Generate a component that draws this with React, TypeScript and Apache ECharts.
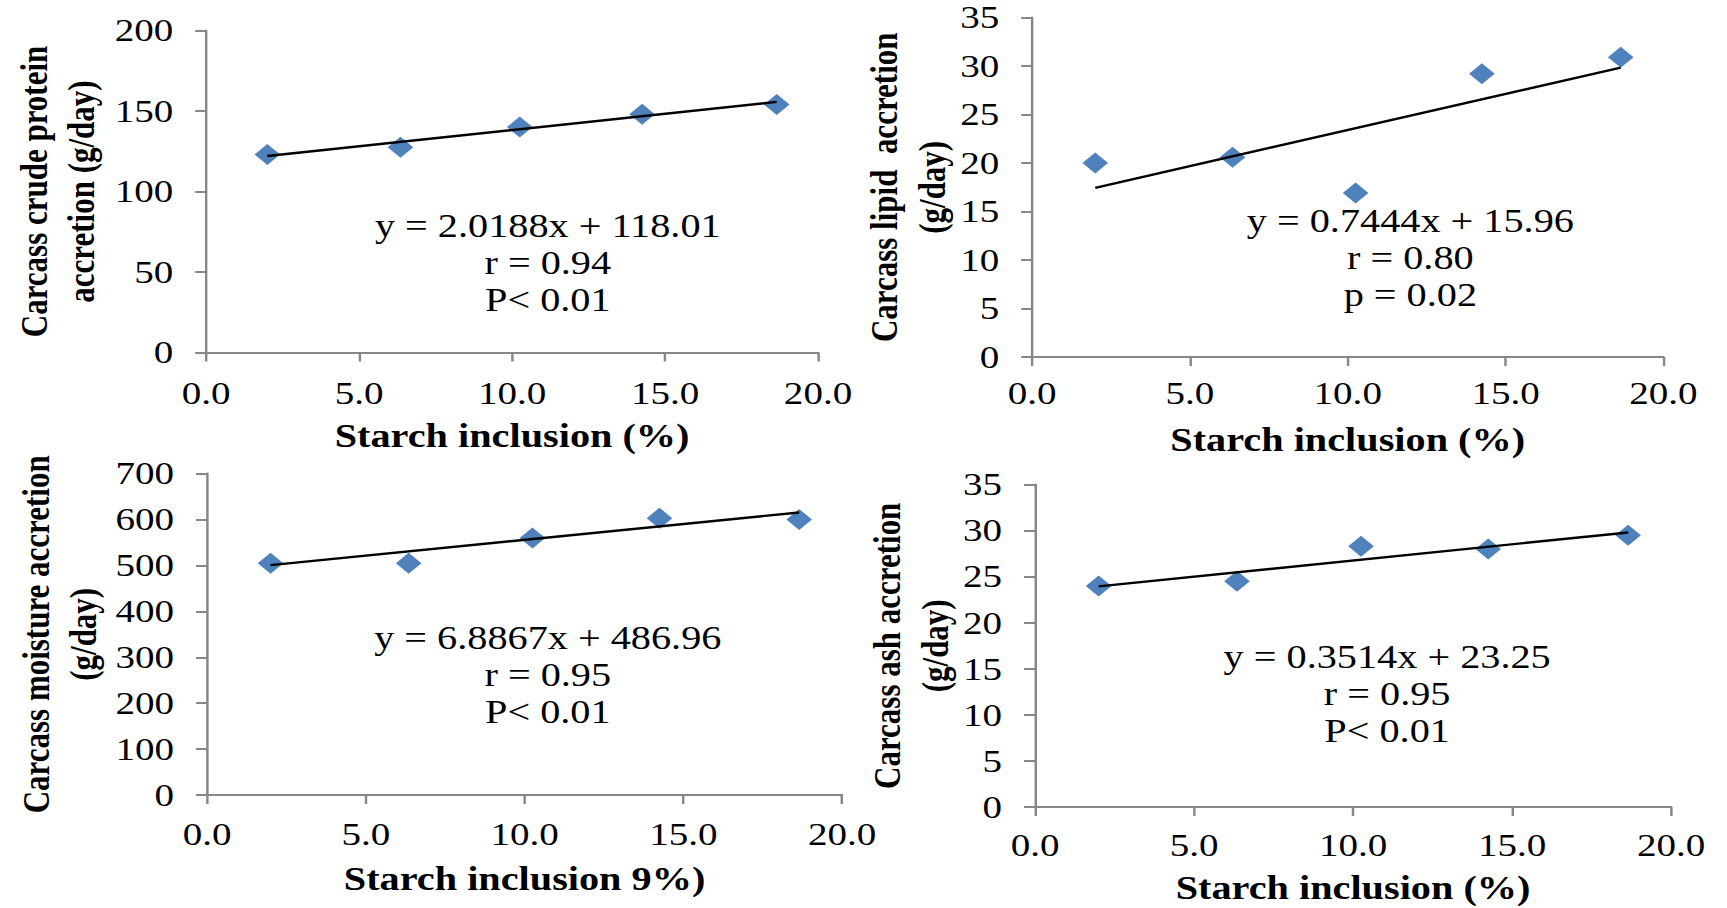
import React, { useEffect, useRef } from "react";
import * as echarts from "echarts";

// The figure is laid out on a narrower canvas and widened horizontally to the page.
const STRETCH = 1.22;
const PAGE_W = 1727;
const PAGE_H = 908;
const CHART_W = Math.round(PAGE_W / STRETCH);

// Starch inclusion levels (%)
const starchLevels = [2.0, 6.35, 10.25, 14.25, 18.65];

// Carcass accretion (g/day)
const proteinAccretion = [123, 127.5, 140, 148, 154];
const lipidAccretion = [20.0, 20.6, 16.9, 29.2, 30.9];
const moistureAccretion = [505, 505, 560, 603, 600];
const ashAccretion = [24.0, 24.5, 28.3, 28.0, 29.5];

// Fitted regressions: slope, intercept
const proteinFit = [2.0188, 118.01];
const lipidFit = [0.7444, 15.96];
const moistureFit = [6.8867, 486.96];
const ashFit = [0.3514, 23.25];

const proteinStats = ["y = 2.0188x + 118.01", "r = 0.94", "P< 0.01"];
const lipidStats = ["y = 0.7444x + 15.96", "r = 0.80", "p = 0.02"];
const moistureStats = ["y = 6.8867x + 486.96", "r = 0.95", "P< 0.01"];
const ashStats = ["y = 0.3514x + 23.25", "r = 0.95", "P< 0.01"];

const yTitles = [
  "Carcass crude protein\naccretion (g/day)",
  "Carcass lipid  accretion\n(g/day)",
  "Carcass moisture accretion\n(g/day)",
  "Carcass ash accretion\n(g/day)",
];
const xTitles = [
  "Starch inclusion (%)",
  "Starch inclusion (%)",
  "Starch inclusion 9%)",
  "Starch inclusion (%)",
];

const yRanges = [
  [0, 200, 50],
  [0, 35, 5],
  [0, 700, 100],
  [0, 35, 5],
];
const xRange = [0, 20, 5];

const panelValues = [proteinAccretion, lipidAccretion, moistureAccretion, ashAccretion];
const panelFits = [proteinFit, lipidFit, moistureFit, ashFit];
const panelStats = [proteinStats, lipidStats, moistureStats, ashStats];

// Layout of each panel on the chart canvas (px)
const layouts = [
  { left: 169, top: 30.5, width: 501.5, height: 322, yNameGap: 83, xLabelMargin: 25, xNameGap: 67, statX: 449, statY: 263 },
  { left: 846, top: 17.6, width: 517.4, height: 339.4, yNameGap: 62, xLabelMargin: 20, xNameGap: 66, statX: 1156, statY: 258 },
  { left: 169.7, top: 473.6, width: 520.5, height: 321.4, yNameGap: 82, xLabelMargin: 23, xNameGap: 67, statX: 449, statY: 675 },
  { left: 848.4, top: 484.6, width: 521.3, height: 322.4, yNameGap: 63, xLabelMargin: 22, xNameGap: 64, statX: 1137, statY: 694 },
];

const FONT = "'Liberation Serif', 'Times New Roman', serif";
const AXIS_GREY = "#878787";
const MARKER_BLUE = "#4F81BD";

function buildOption(): echarts.EChartsOption {
  const axisLineStyle = { color: AXIS_GREY, width: 2 };
  const grid: any[] = [];
  const xAxis: any[] = [];
  const yAxis: any[] = [];
  const series: any[] = [];
  const graphic: any[] = [];

  layouts.forEach((lay, i) => {
    grid.push({ left: lay.left, top: lay.top, width: lay.width, height: lay.height, containLabel: false });

    xAxis.push({
      gridIndex: i,
      type: "value",
      min: xRange[0],
      max: xRange[1],
      interval: xRange[2],
      name: xTitles[i],
      nameLocation: "middle",
      nameGap: lay.xNameGap,
      nameTextStyle: { fontFamily: FONT, fontWeight: "bold", fontSize: 33, color: "#000" },
      axisLine: { show: true, onZero: false, lineStyle: axisLineStyle },
      axisTick: { show: true, inside: false, length: 9, lineStyle: axisLineStyle },
      axisLabel: {
        margin: lay.xLabelMargin,
        fontFamily: FONT,
        fontSize: 32,
        color: "#000",
        formatter: (v: number) => v.toFixed(1),
      },
      splitLine: { show: false },
    });

    const [yMin, yMax, yStep] = yRanges[i];
    yAxis.push({
      gridIndex: i,
      type: "value",
      min: yMin,
      max: yMax,
      interval: yStep,
      name: yTitles[i],
      nameLocation: "middle",
      nameGap: lay.yNameGap,
      nameTextStyle: {
        fontFamily: FONT,
        fontWeight: "bold",
        fontSize: 31,
        lineHeight: 39,
        color: "#000",
        align: "center",
      },
      axisLine: { show: true, onZero: false, lineStyle: axisLineStyle },
      axisTick: { show: true, inside: false, length: 9, lineStyle: axisLineStyle },
      axisLabel: { margin: 27, fontFamily: FONT, fontSize: 32, color: "#000" },
      splitLine: { show: false },
    });

    const values = panelValues[i];
    series.push({
      type: "scatter",
      xAxisIndex: i,
      yAxisIndex: i,
      data: starchLevels.map((x, k) => [x, values[k]]),
      symbol: "diamond",
      symbolSize: 21,
      itemStyle: { color: MARKER_BLUE, opacity: 1 },
      z: 2,
    });

    const [slope, intercept] = panelFits[i];
    const x0 = starchLevels[0];
    const x1 = starchLevels[starchLevels.length - 1];
    series.push({
      type: "line",
      xAxisIndex: i,
      yAxisIndex: i,
      data: [
        [x0, slope * x0 + intercept],
        [x1, slope * x1 + intercept],
      ],
      symbol: "none",
      lineStyle: { color: "#000", width: 2.4 },
      z: 3,
    });

    graphic.push({
      type: "text",
      x: lay.statX,
      y: lay.statY,
      silent: true,
      style: {
        text: panelStats[i].join("\n"),
        fontFamily: FONT,
        fontSize: 33,
        lineHeight: 37,
        fill: "#000",
        align: "center",
        verticalAlign: "middle",
        textAlign: "center",
        textVerticalAlign: "middle",
      },
    });
  });

  return {
    animation: false,
    backgroundColor: "#fff",
    grid,
    xAxis,
    yAxis,
    series,
    graphic,
  };
}

export default function App() {
  const ref = useRef<HTMLDivElement>(null);

  useEffect(() => {
    if (!ref.current) return;
    const chart = echarts.init(ref.current, null, {
      renderer: "svg",
      width: CHART_W,
      height: PAGE_H,
    });
    chart.setOption(buildOption());
    return () => chart.dispose();
  }, []);

  return (
    <div
      style={{
        position: "absolute",
        left: 0,
        top: 0,
        width: PAGE_W,
        height: PAGE_H,
        overflow: "hidden",
        background: "#fff",
      }}
    >
      <div
        ref={ref}
        style={{
          width: CHART_W,
          height: PAGE_H,
          transform: `scaleX(${STRETCH})`,
          transformOrigin: "0 0",
        }}
      />
    </div>
  );
}
